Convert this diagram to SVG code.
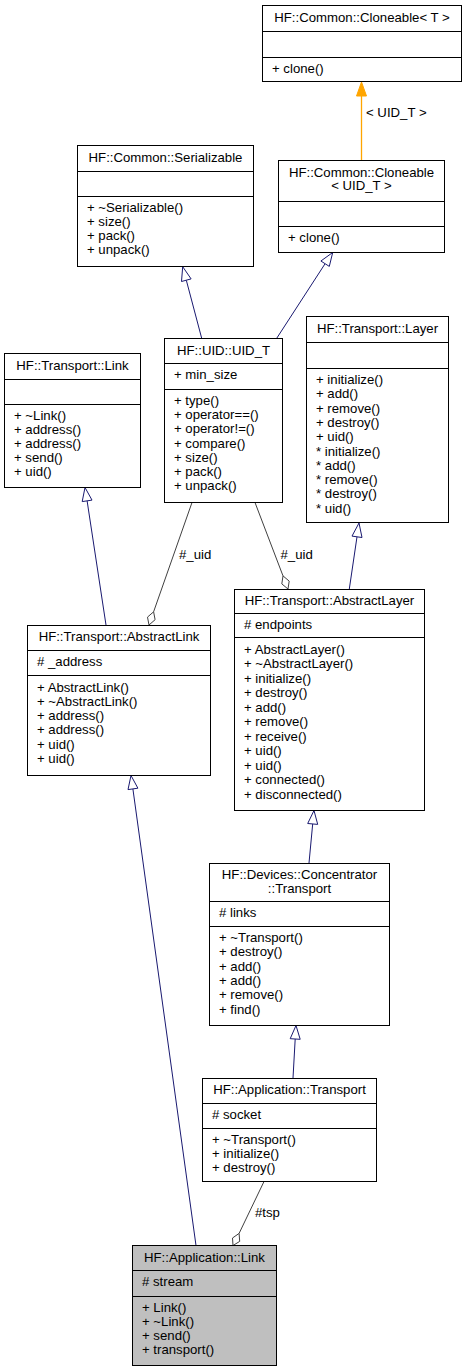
<svg xmlns="http://www.w3.org/2000/svg" width="467" height="1372" viewBox="0 0 467 1372">
<style>
text{font-family:"Liberation Sans",Arial,sans-serif;font-size:13.2px;fill:#000}
.t{text-anchor:middle}
.box{fill:#fff;stroke:#000;stroke-width:1}
.cur{fill:#bfbfbf;stroke:#000;stroke-width:1}
.sep{stroke:#000;stroke-width:1}
.inh{fill:none;stroke:#191970;stroke-width:1}
.inhh{fill:#fff;stroke:#191970;stroke-width:1}
.agg{fill:none;stroke:#404040;stroke-width:1}
.aggh{fill:#fff;stroke:#404040;stroke-width:1}
.tpl{fill:none;stroke:#ffa500;stroke-width:1.3}
.tplh{fill:#ffa500;stroke:#ffa500;stroke-width:1}
</style>
<rect width="467" height="1372" fill="#fff"/>
<g id="connectors">
<line class="tpl" x1="361.5" y1="160" x2="361.5" y2="96"/>
<polygon class="tplh" points="361.5,82 366.5,96 356.5,96"/>
<text x="366" y="117">&lt; UID_T &gt;</text>
<line class="inh" x1="201.7" y1="338.3" x2="186.3" y2="280.2"/>
<polygon class="inhh" points="182.7,266.7 191.1,278.9 181.5,281.5"/>
<line class="inh" x1="276.7" y1="338.3" x2="325.1" y2="263.7"/>
<polygon class="inhh" points="332.7,252.5 329.3,266.4 320.9,261.0"/>
<line class="inh" x1="106" y1="625" x2="87.1" y2="500.8"/>
<polygon class="inhh" points="85,487.5 92.0,500.1 82.2,501.6"/>
<line class="inh" x1="349.3" y1="589" x2="357" y2="536.8"/>
<polygon class="inhh" points="359,523 362,537.5 352,536.1"/>
<line class="inh" x1="309" y1="863" x2="312.7" y2="823.9"/>
<polygon class="inhh" points="314,810.5 317.7,824.4 307.7,823.5"/>
<line class="inh" x1="293" y1="1078" x2="295.2" y2="1039"/>
<polygon class="inhh" points="296,1025.5 300.2,1039.3 290.2,1038.7"/>
<line class="inh" x1="196" y1="1245.5" x2="132.9" y2="788.9"/>
<polygon class="inhh" points="131,775.5 137.9,788.2 128.0,789.6"/>
<line class="agg" x1="192" y1="502.5" x2="153.6" y2="611.8"/>
<polygon class="aggh" points="149,625 155.1,619.7 153.6,611.8 147.5,617.1"/>
<text x="179" y="558.5">#_uid</text>
<line class="agg" x1="255" y1="502.5" x2="283" y2="575.9"/>
<polygon class="aggh" points="288,589 289.2,581.1 283,575.9 281.8,583.9"/>
<text x="280.5" y="558.5">#_uid</text>
<line class="agg" x1="264" y1="1181.5" x2="239.1" y2="1233.4"/>
<polygon class="aggh" points="233,1245.5 239.7,1241.4 239.1,1233.4 232.5,1238.0"/>
<text x="255" y="1217">#tsp</text>
</g>
<g id="cloneable_T">
<rect class="box" x="262.5" y="5.5" width="199" height="76"/>
<line class="sep" x1="262.5" y1="31.5" x2="461.5" y2="31.5"/>
<line class="sep" x1="262.5" y1="57.5" x2="461.5" y2="57.5"/>
<text class="t" x="362" y="21.5">HF::Common::Cloneable&lt; T &gt;</text>
<text x="272" y="73">+ clone()</text>
</g>
<g id="cloneable_UID_T">
<rect class="box" x="278.5" y="160.5" width="166" height="92"/>
<line class="sep" x1="278.5" y1="201.5" x2="444.5" y2="201.5"/>
<line class="sep" x1="278.5" y1="226.5" x2="444.5" y2="226.5"/>
<text class="t" x="361.5" y="176.5">HF::Common::Cloneable</text>
<text class="t" x="361.5" y="190">&lt; UID_T &gt;</text>
<text x="288" y="242">+ clone()</text>
</g>
<g id="serializable">
<rect class="box" x="77.5" y="145.5" width="176" height="121"/>
<line class="sep" x1="77.5" y1="171.5" x2="253.5" y2="171.5"/>
<line class="sep" x1="77.5" y1="196.5" x2="253.5" y2="196.5"/>
<text class="t" x="165.5" y="161.5">HF::Common::Serializable</text>
<text x="87" y="212">+ ~Serializable()</text>
<text x="87" y="226">+ size()</text>
<text x="87" y="240">+ pack()</text>
<text x="87" y="254">+ unpack()</text>
</g>
<g id="transport_link">
<rect class="box" x="4.5" y="353.5" width="136" height="134"/>
<line class="sep" x1="4.5" y1="379.5" x2="140.5" y2="379.5"/>
<line class="sep" x1="4.5" y1="404.5" x2="140.5" y2="404.5"/>
<text class="t" x="72.5" y="369.5">HF::Transport::Link</text>
<text x="14" y="420">+ ~Link()</text>
<text x="14" y="434">+ address()</text>
<text x="14" y="448">+ address()</text>
<text x="14" y="462">+ send()</text>
<text x="14" y="476">+ uid()</text>
</g>
<g id="uid_t">
<rect class="box" x="164.5" y="338.5" width="118" height="164"/>
<line class="sep" x1="164.5" y1="363.5" x2="282.5" y2="363.5"/>
<line class="sep" x1="164.5" y1="389.5" x2="282.5" y2="389.5"/>
<text class="t" x="223.5" y="354.5">HF::UID::UID_T</text>
<text x="174" y="378.5">+ min_size</text>
<text x="174" y="405">+ type()</text>
<text x="174" y="419.2">+ operator==()</text>
<text x="174" y="433.4">+ operator!=()</text>
<text x="174" y="447.6">+ compare()</text>
<text x="174" y="461.8">+ size()</text>
<text x="174" y="476">+ pack()</text>
<text x="174" y="490.2">+ unpack()</text>
</g>
<g id="transport_layer">
<rect class="box" x="306.5" y="316.5" width="142" height="206"/>
<line class="sep" x1="306.5" y1="342.5" x2="448.5" y2="342.5"/>
<line class="sep" x1="306.5" y1="368.5" x2="448.5" y2="368.5"/>
<text class="t" x="377.5" y="332.5">HF::Transport::Layer</text>
<text x="316" y="384">+ initialize()</text>
<text x="316" y="398.3">+ add()</text>
<text x="316" y="412.6">+ remove()</text>
<text x="316" y="426.9">+ destroy()</text>
<text x="316" y="441.2">+ uid()</text>
<text x="316" y="455.5">* initialize()</text>
<text x="316" y="469.8">* add()</text>
<text x="316" y="484.1">* remove()</text>
<text x="316" y="498.4">* destroy()</text>
<text x="316" y="512.7">* uid()</text>
</g>
<g id="abstract_link">
<rect class="box" x="27.5" y="625.5" width="183" height="150"/>
<line class="sep" x1="27.5" y1="650.5" x2="210.5" y2="650.5"/>
<line class="sep" x1="27.5" y1="675.5" x2="210.5" y2="675.5"/>
<text class="t" x="119" y="641">HF::Transport::AbstractLink</text>
<text x="37" y="666">#  _address</text>
<text x="37" y="691.5">+ AbstractLink()</text>
<text x="37" y="705.8">+ ~AbstractLink()</text>
<text x="37" y="720.1">+ address()</text>
<text x="37" y="734.4">+ address()</text>
<text x="37" y="748.7">+ uid()</text>
<text x="37" y="763">+ uid()</text>
</g>
<g id="abstract_layer">
<rect class="box" x="234.5" y="589.5" width="190" height="221"/>
<line class="sep" x1="234.5" y1="613.5" x2="424.5" y2="613.5"/>
<line class="sep" x1="234.5" y1="637.5" x2="424.5" y2="637.5"/>
<text class="t" x="329.5" y="605">HF::Transport::AbstractLayer</text>
<text x="244" y="628.5"># endpoints</text>
<text x="244" y="653.5">+ AbstractLayer()</text>
<text x="244" y="668">+ ~AbstractLayer()</text>
<text x="244" y="682.5">+ initialize()</text>
<text x="244" y="697">+ destroy()</text>
<text x="244" y="711.5">+ add()</text>
<text x="244" y="726">+ remove()</text>
<text x="244" y="740.5">+ receive()</text>
<text x="244" y="755">+ uid()</text>
<text x="244" y="769.5">+ uid()</text>
<text x="244" y="784">+ connected()</text>
<text x="244" y="798.5">+ disconnected()</text>
</g>
<g id="concentrator_transport">
<rect class="box" x="209.5" y="863.5" width="180" height="162"/>
<line class="sep" x1="209.5" y1="901.5" x2="389.5" y2="901.5"/>
<line class="sep" x1="209.5" y1="926.5" x2="389.5" y2="926.5"/>
<text class="t" x="299.5" y="879">HF::Devices::Concentrator</text>
<text class="t" x="299.5" y="892.5">::Transport</text>
<text x="219" y="917"># links</text>
<text x="219" y="942">+ ~Transport()</text>
<text x="219" y="956.3">+ destroy()</text>
<text x="219" y="970.6">+ add()</text>
<text x="219" y="984.9">+ add()</text>
<text x="219" y="999.2">+ remove()</text>
<text x="219" y="1013.5">+ find()</text>
</g>
<g id="application_transport">
<rect class="box" x="202.5" y="1078.5" width="174" height="103"/>
<line class="sep" x1="202.5" y1="1103.5" x2="376.5" y2="1103.5"/>
<line class="sep" x1="202.5" y1="1128.5" x2="376.5" y2="1128.5"/>
<text class="t" x="289.5" y="1094">HF::Application::Transport</text>
<text x="212" y="1119"># socket</text>
<text x="212" y="1143.5">+ ~Transport()</text>
<text x="212" y="1157.5">+ initialize()</text>
<text x="212" y="1171.5">+ destroy()</text>
</g>
<g id="application_link">
<rect class="cur" x="132.5" y="1245.5" width="144" height="120"/>
<line class="sep" x1="132.5" y1="1270.5" x2="276.5" y2="1270.5"/>
<line class="sep" x1="132.5" y1="1296.5" x2="276.5" y2="1296.5"/>
<text class="t" x="204.5" y="1261.5">HF::Application::Link</text>
<text x="142" y="1286"># stream</text>
<text x="142" y="1311.5">+ Link()</text>
<text x="142" y="1325.7">+ ~Link()</text>
<text x="142" y="1339.9">+ send()</text>
<text x="142" y="1354.1">+ transport()</text>
</g>
</svg>
